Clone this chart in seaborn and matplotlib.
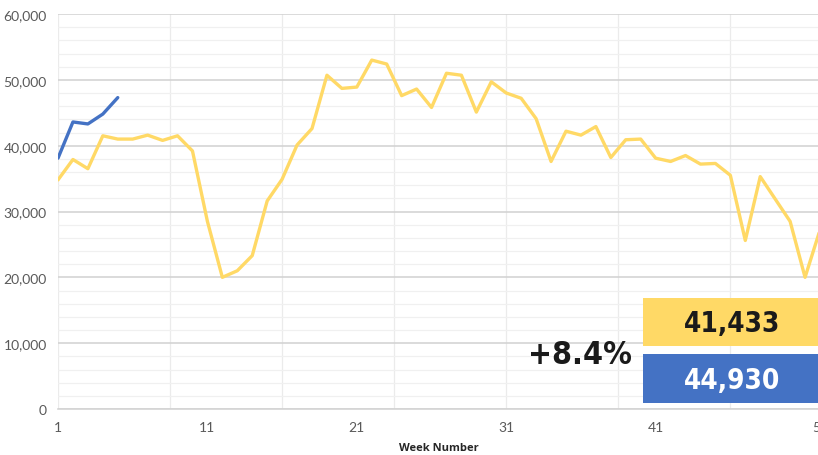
import numpy as np
import pandas as pd
import seaborn as sns
from matplotlib import pyplot as plt
from matplotlib.patches import Rectangle
from matplotlib.ticker import FixedLocator, MultipleLocator, FuncFormatter

# weekly values
weeks_prev = list(range(1, 53))
values_prev = [34800, 37900, 36500, 41500, 41000, 41000, 41600, 40800, 41500, 39200,
               28500, 20000, 21000, 23300, 31600, 34900, 40100, 42600, 50700, 48700,
               48900, 53000, 52400, 47600, 48600, 45800, 51000, 50700, 45100, 49700,
               48000, 47200, 44100, 37600, 42200, 41600, 42900, 38200, 40900, 41000,
               38100, 37600, 38500, 37200, 37300, 35500, 25600, 35300, 31900, 28500,
               20000, 27200]
weeks_curr = [1, 2, 3, 4, 5]
values_curr = [38100, 43600, 43300, 44800, 47300]

label_weeks = [1, 11, 21, 31, 41, 52]
avg_prev_text = "41,433"
avg_curr_text = "44,930"
change_text = "+8.4%"

YELLOW = "#FFD966"
BLUE = "#4472C4"

df = pd.concat([
    pd.DataFrame({"week": weeks_prev, "value": values_prev, "series": "prev"}),
    pd.DataFrame({"week": weeks_curr, "value": values_curr, "series": "curr"}),
])

sns.set_style("white")
plt.rcParams["font.family"] = ["Lato", "DejaVu Sans"]

fig = plt.figure(figsize=(8.18, 4.56), dpi=100)
ax = fig.add_axes([58 / 818, 46 / 456, 762 / 818, 395 / 456])

# grid
for w in np.arange(1, 53, 7.5):
    ax.axvline(w, color="#ebebeb", lw=0.9, zorder=0)
ax.yaxis.set_major_locator(MultipleLocator(10000))
ax.yaxis.set_minor_locator(MultipleLocator(2000))
ax.grid(axis="y", which="major", color="#d4d4d4", lw=1.2, zorder=0)
ax.grid(axis="y", which="minor", color="#f0f0f0", lw=0.9, zorder=0)
ax.grid(axis="x", visible=False)

sns.lineplot(data=df, x="week", y="value", hue="series",
             palette={"prev": YELLOW, "curr": BLUE}, lw=2.4,
             legend=False, ax=ax, zorder=3)

ax.set_xlim(1, 52)
ax.set_ylim(0, 60000)
ax.yaxis.set_major_formatter(FuncFormatter(lambda v, p: f"{int(v):,}"))
ax.xaxis.set_major_locator(FixedLocator(label_weeks))
ax.xaxis.set_minor_locator(FixedLocator([1, 16, 31, 46]))
ax.tick_params(axis="x", which="major", length=0, pad=9, labelsize=10, labelcolor="#595959")
ax.tick_params(axis="x", which="minor", length=5, width=1, color="#d4d4d4", direction="out")
ax.tick_params(axis="y", which="both", length=0, pad=8, labelsize=10, labelcolor="#595959")
ax.set_xlabel("Week Number", fontsize=8, fontweight="bold", family=["Open Sans", "DejaVu Sans"],
              labelpad=6)
ax.set_ylabel("")

sns.despine(ax=ax, left=True, right=True, top=True)
ax.spines["bottom"].set_color("#d4d4d4")
ax.spines["bottom"].set_linewidth(1.2)

# summary boxes
narrow = dict(family="DejaVu Sans", fontstretch="condensed", fontweight="bold")
fig.patches.append(Rectangle((643 / 818, 109 / 456), 0.3, 48 / 456, transform=fig.transFigure,
                             facecolor=YELLOW, edgecolor="none", zorder=5))
fig.patches.append(Rectangle((643 / 818, 52 / 456), 0.3, 49 / 456, transform=fig.transFigure,
                             facecolor=BLUE, edgecolor="none", zorder=5))
fig.text(732 / 818, 1 - 324 / 456, avg_prev_text, ha="center", va="center", fontsize=20,
         color="#1a1a1a", zorder=6, **narrow)
fig.text(732 / 818, 1 - 381 / 456, avg_curr_text, ha="center", va="center", fontsize=20,
         color="white", zorder=6, **narrow)
fig.text(580 / 818, 1 - 355 / 456, change_text, ha="center", va="center", fontsize=23,
         color="#1a1a1a", zorder=6, **narrow)

fig.savefig("out.png", dpi=100)
